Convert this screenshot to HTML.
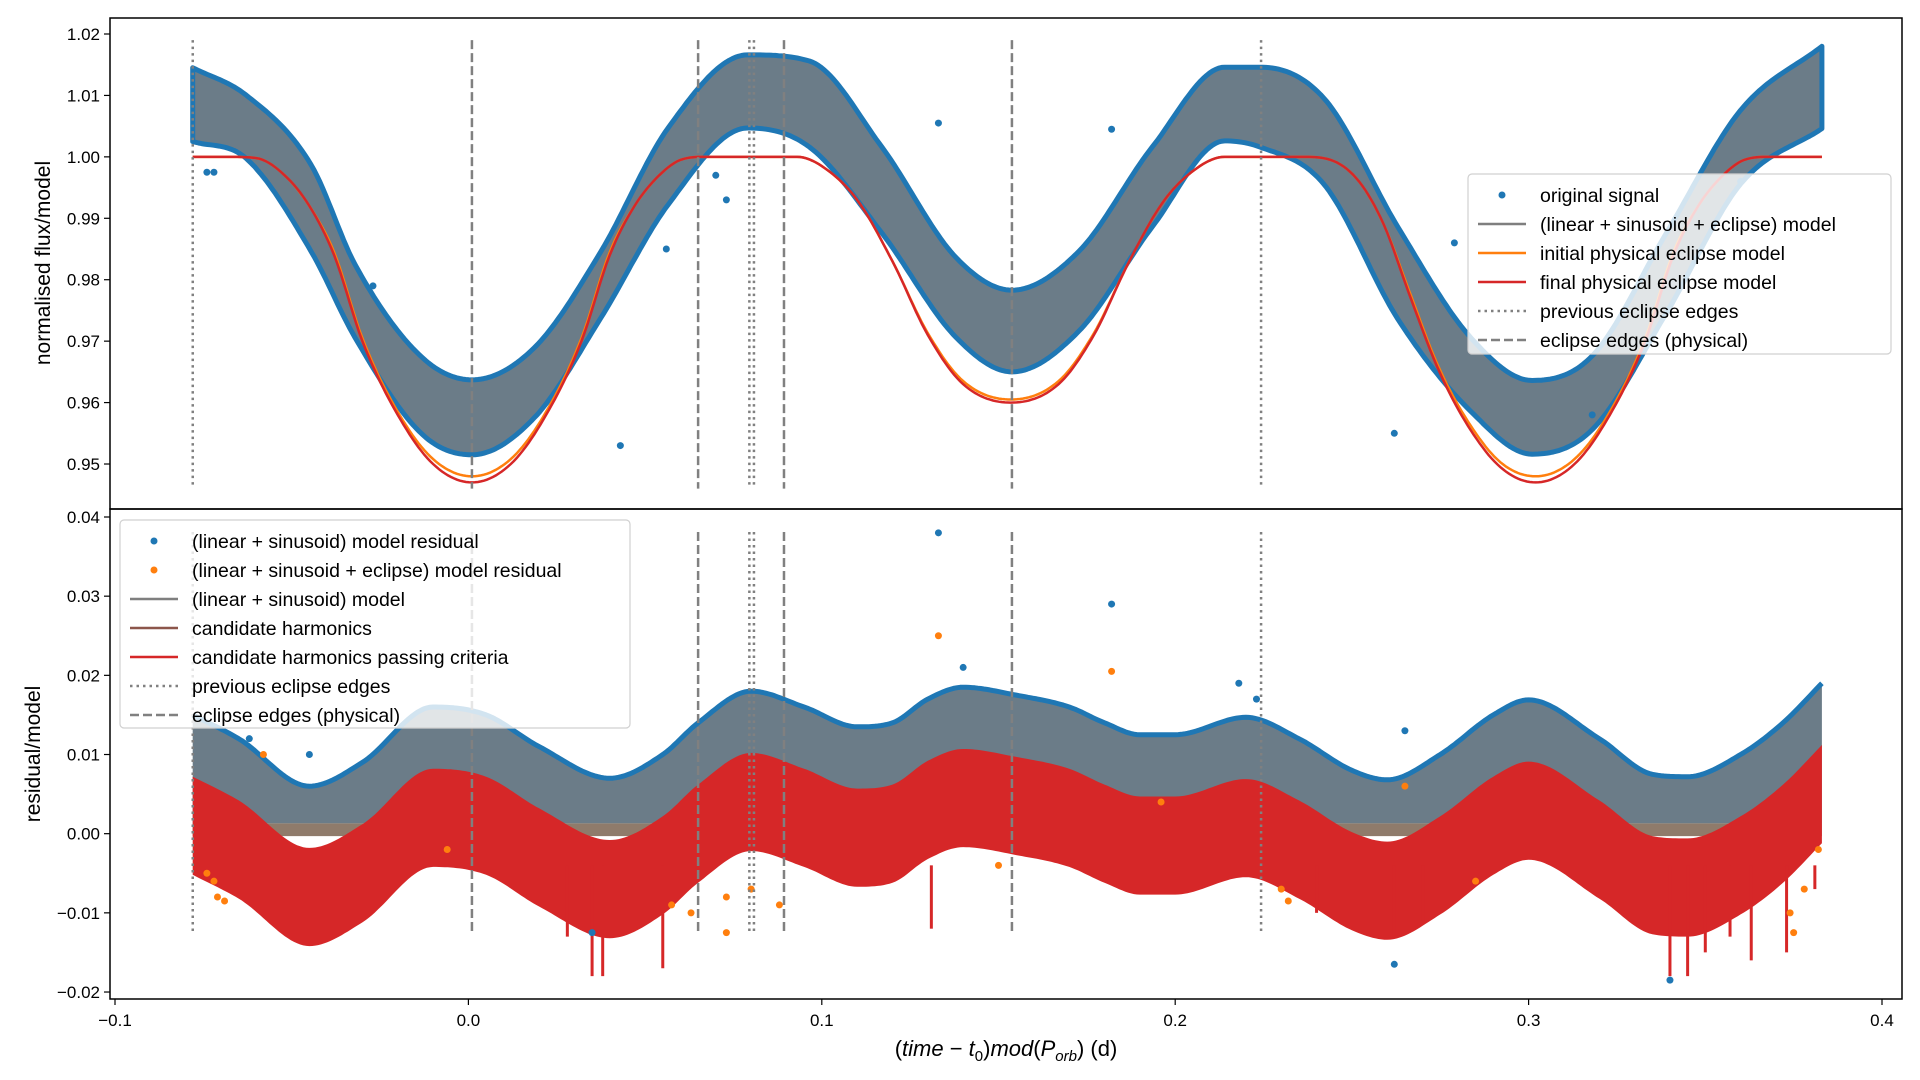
<!DOCTYPE html>
<html><head><meta charset="utf-8"><style>
body{margin:0;background:#fff;}
svg{display:block;font-family:"Liberation Sans","DejaVu Sans",sans-serif;}
</style></head><body>
<svg id="chart" width="1920" height="1080" viewBox="0 0 1920 1080" xmlns="http://www.w3.org/2000/svg">
<rect width="1920" height="1080" fill="#fff"/>
<g id="topPanel"></g><g id="botPanel"></g><g id="axesGroup"></g>
</svg>
<script>
// ---- data ----
const bandX = [-0.078,-0.063,-0.0445,-0.032,-0.013,0.001,0.0186,0.0375,0.0565,0.079,0.0965,0.117,0.138,0.1538,0.1727,0.1935,0.214,0.224,0.242,0.263,0.2836,0.301,0.318,0.339,0.360,0.383];
const bandUpper = [1.0145,1.0101,0.9987,0.9824,0.9673,0.9637,0.9689,0.9846,1.0047,1.0166,1.0156,1.0016,0.9836,0.9783,0.9846,1.0016,1.0146,1.0146,1.0096,0.9886,0.9706,0.9636,0.9676,0.9876,1.0076,1.018];
const bandLower = [1.0025,0.9998,0.9846,0.9705,0.9548,0.9515,0.9575,0.9738,0.9922,1.0047,1.0016,0.9876,0.9706,0.965,0.9716,0.9886,1.0026,1.0016,0.9956,0.9736,0.9586,0.9516,0.9556,0.9746,0.9956,1.0046];
const modelX = [-0.078,-0.068,-0.06,-0.052,-0.045,-0.038,-0.03,-0.02,-0.01,0.001,0.012,0.022,0.032,0.04,0.047,0.054,0.06,0.067,0.093,0.10,0.11,0.12,0.13,0.14,0.1535,0.167,0.177,0.187,0.197,0.207,0.214,0.236,0.244,0.252,0.259,0.266,0.274,0.282,0.292,0.302,0.313,0.323,0.333,0.341,0.348,0.355,0.361,0.368,0.383];
const redModel = [1.0,1.0,0.9998,0.997,0.992,0.984,0.970,0.958,0.950,0.947,0.950,0.958,0.970,0.984,0.992,0.997,0.9995,1.0,1.0,0.9985,0.993,0.983,0.971,0.963,0.960,0.963,0.971,0.983,0.993,0.9985,1.0,1.0,0.9995,0.996,0.989,0.978,0.966,0.957,0.9495,0.947,0.950,0.958,0.970,0.984,0.992,0.997,0.9995,1.0,1.0];
const orangeModel = [1.0,1.0,0.9998,0.997,0.992,0.9845,0.9705,0.9585,0.9508,0.948,0.9508,0.9585,0.9705,0.9845,0.992,0.997,0.9995,1.0,1.0,0.9985,0.993,0.983,0.9713,0.9635,0.9605,0.9635,0.9713,0.983,0.993,0.9985,1.0,1.0,0.9995,0.996,0.989,0.9785,0.9665,0.9577,0.9503,0.948,0.9508,0.9585,0.9705,0.9845,0.992,0.997,0.9995,1.0,1.0];
const topOutX = [0.133,0.182,0.073,0.070,-0.074,-0.072,0.056,-0.027,0.043,0.262,0.279,0.318,0.360];
const topOutY = [1.0055,1.0045,0.993,0.997,0.9975,0.9975,0.985,0.979,0.953,0.955,0.986,0.958,0.996];
const resX = [-0.078,-0.065,-0.045,-0.03,-0.01,0.005,0.02,0.04,0.055,0.065,0.08,0.095,0.11,0.12,0.13,0.14,0.155,0.17,0.18,0.19,0.2,0.22,0.235,0.25,0.26,0.275,0.29,0.30,0.32,0.335,0.345,0.36,0.372,0.383];
const resUpper = [0.015,0.012,0.006,0.009,0.016,0.015,0.011,0.007,0.010,0.014,0.018,0.016,0.0135,0.014,0.017,0.0185,0.0175,0.016,0.014,0.0125,0.0125,0.0147,0.012,0.008,0.0068,0.010,0.015,0.0169,0.012,0.0075,0.0072,0.010,0.014,0.019];
const spikeX = [0.028,0.035,0.038,0.055,0.131,0.24,0.262,0.27,0.34,0.345,0.35,0.357,0.363,0.373,0.381];
const spikeY = [-0.013,-0.018,-0.018,-0.017,-0.012,-0.010,-0.013,-0.011,-0.018,-0.018,-0.015,-0.013,-0.016,-0.015,-0.007];
const blueResX = [0.133,0.182,0.265,0.223,0.218,0.14,-0.062,-0.045,0.035,0.34,0.262];
const blueResY = [0.038,0.029,0.013,0.017,0.019,0.021,0.012,0.010,-0.0125,-0.0185,-0.0165];
const orResX = [-0.074,-0.072,-0.071,-0.069,0.133,0.182,0.073,0.073,0.088,0.080,0.150,0.285,0.230,0.382,0.375,0.374,-0.058,0.063,0.0575,-0.006,0.265,0.196,0.232,0.378];
const orResY = [-0.005,-0.006,-0.008,-0.0085,0.025,0.0205,-0.008,-0.0125,-0.009,-0.007,-0.004,-0.006,-0.007,-0.002,-0.0125,-0.010,0.010,-0.010,-0.009,-0.002,0.006,0.004,-0.0085,-0.007];
const dottedX = [-0.078,0.0795,0.0808,0.2243];
const dashedX = [0.001,0.065,0.0893,0.1538];
const xTicks = [-0.1,0.0,0.1,0.2,0.3,0.4];
const xTickLabels = ["\u22120.1","0.0","0.1","0.2","0.3","0.4"];
const topTicks = [1.02,1.01,1.00,0.99,0.98,0.97,0.96,0.95];
const topTickLabels = ["1.02","1.01","1.00","0.99","0.98","0.97","0.96","0.95"];
const botTicks = [0.04,0.03,0.02,0.01,0.00,-0.01,-0.02];
const botTickLabels = ["0.04","0.03","0.02","0.01","0.00","\u22120.01","\u22120.02"];

// ---- scales ----
const L=110,R=1902,T=18,M=509,B=999;
const X=v=>468.4+v*3534;
const YT=v=>34+(1.02-v)*6143;
const YB=v=>517+(0.04-v)*7917;
const NS="http://www.w3.org/2000/svg";
function mk(tag,attrs,parent){const e=document.createElementNS(NS,tag);for(const k in attrs)e.setAttribute(k,attrs[k]);parent.appendChild(e);return e;}
// monotone cubic (Fritsch-Carlson) sampled polyline points
function monoPts(xs,ys,fx,fy){const n=xs.length,d=[],m=[];
 for(let i=0;i<n-1;i++)d.push((ys[i+1]-ys[i])/(xs[i+1]-xs[i]));
 m[0]=d[0];m[n-1]=d[n-2];
 for(let i=1;i<n-1;i++){m[i]=(d[i-1]*d[i]<=0)?0:(d[i-1]+d[i])/2;}
 for(let i=0;i<n-1;i++){if(d[i]===0){m[i]=0;m[i+1]=0;continue;}const a=m[i]/d[i],b=m[i+1]/d[i],s=a*a+b*b;if(s>9){const t=3/Math.sqrt(s);m[i]=t*a*d[i];m[i+1]=t*b*d[i];}}
 const pts=[];
 for(let i=0;i<n-1;i++){const h=xs[i+1]-xs[i];const steps=Math.max(2,Math.ceil(fx(xs[i+1])-fx(xs[i]))/3|0);
  for(let k=0;k<steps;k++){const t=k/steps,t2=t*t,t3=t2*t;
   const y=(2*t3-3*t2+1)*ys[i]+(t3-2*t2+t)*h*m[i]+(-2*t3+3*t2)*ys[i+1]+(t3-t2)*h*m[i+1];
   pts.push([fx(xs[i]+t*h),fy(y)]);}}
 pts.push([fx(xs[n-1]),fy(ys[n-1])]);return pts;}
const ptsToD=p=>'M'+p.map(q=>q[0].toFixed(1)+','+q[1].toFixed(1)).join(' L');
function bandD(xs,up,lo,fx,fy){const a=monoPts(xs,up,fx,fy),b=monoPts(xs,lo,fx,fy).reverse();return ptsToD(a.concat(b))+' Z';}
const gTop=document.getElementById('topPanel'),gBot=document.getElementById('botPanel'),gAx=document.getElementById('axesGroup');

// ---- top panel ----
let e;
e=mk('path',{d:bandD(bandX,bandUpper,bandLower,X,YT),fill:'#6b7c88',stroke:'#1f77b4','stroke-width':5,'stroke-linejoin':'round'},gTop);


topOutX.forEach((x,i)=>{const c=mk('circle',{cx:X(x),cy:YT(topOutY[i]),r:3.5,fill:'#1f77b4'},gTop);

});
e=mk('path',{d:ptsToD(monoPts(modelX,orangeModel,X,YT)),fill:'none',stroke:'#ff7f0e','stroke-width':2.5},gTop);


e=mk('path',{d:ptsToD(monoPts(modelX,redModel,X,YT)),fill:'none',stroke:'#d62728','stroke-width':2.5},gTop);


dottedX.forEach(x=>{const l=mk('line',{x1:X(x),x2:X(x),y1:YT(1.019),y2:YT(0.946),stroke:'#808080','stroke-width':2.5,'stroke-dasharray':'2.5,4'},gTop);

});
dashedX.forEach(x=>{const l=mk('line',{x1:X(x),x2:X(x),y1:YT(1.019),y2:YT(0.946),stroke:'#808080','stroke-width':2.5,'stroke-dasharray':'9,4'},gTop);

});

// ---- bottom panel ----
const zeroLo=resX.map(()=>-0.0003), grayLo=resX.map(()=>0.0013);
e=mk('path',{d:bandD(resX,resUpper,grayLo,X,YB),fill:'#6b7c88'},gBot);


e=mk('path',{d:ptsToD(monoPts(resX,resUpper,X,YB)),fill:'none',stroke:'#1f77b4','stroke-width':5,'stroke-linejoin':'round'},gBot);


e=mk('path',{d:bandD(resX,grayLo,zeroLo,X,YB),fill:'#8f7b6b'},gBot);


const redTop=resUpper.map(v=>v-0.0078), redBot=resUpper.map(v=>v-0.0202);
e=mk('path',{d:bandD(resX,redTop,redBot,X,YB),fill:'#d62728'},gBot);


spikeX.forEach((x,i)=>{const l=mk('line',{x1:X(x),x2:X(x),y1:YB(-0.004),y2:YB(spikeY[i]),stroke:'#d62728','stroke-width':3},gBot);

});
orResX.forEach((x,i)=>{const c=mk('circle',{cx:X(x),cy:YB(orResY[i]),r:3.5,fill:'#ff7f0e'},gBot);

});
blueResX.forEach((x,i)=>{const c=mk('circle',{cx:X(x),cy:YB(blueResY[i]),r:3.5,fill:'#1f77b4'},gBot);

});
dottedX.forEach(x=>{const l=mk('line',{x1:X(x),x2:X(x),y1:YB(0.0381),y2:YB(-0.0127),stroke:'#808080','stroke-width':2.5,'stroke-dasharray':'2.5,4'},gBot);

});
dashedX.forEach(x=>{const l=mk('line',{x1:X(x),x2:X(x),y1:YB(0.0381),y2:YB(-0.0127),stroke:'#808080','stroke-width':2.5,'stroke-dasharray':'9,4'},gBot);

});

// ---- axes ----
e=mk('rect',{x:L,y:T,width:R-L,height:M-T,fill:'none',stroke:'#000','stroke-width':1.5},gAx);


e=mk('rect',{x:L,y:M,width:R-L,height:B-M,fill:'none',stroke:'#000','stroke-width':1.5},gAx);


function txt(s,attrs,name){const t=mk('text',attrs,gAx);t.textContent=s;


return t;}
topTicks.forEach((v,i)=>{mk('line',{x1:L-6,x2:L,y1:YT(v),y2:YT(v),stroke:'#000','stroke-width':1.2},gAx);
txt(topTickLabels[i],{x:L-10,y:YT(v)+6,'font-size':17,'text-anchor':'end',fill:'#000'},'top-y-tick-label');});
botTicks.forEach((v,i)=>{mk('line',{x1:L-6,x2:L,y1:YB(v),y2:YB(v),stroke:'#000','stroke-width':1.2},gAx);
txt(botTickLabels[i],{x:L-10,y:YB(v)+6,'font-size':17,'text-anchor':'end',fill:'#000'},'bottom-y-tick-label');});
xTicks.forEach((v,i)=>{mk('line',{x1:X(v),x2:X(v),y1:B,y2:B+6,stroke:'#000','stroke-width':1.2},gAx);
txt(xTickLabels[i],{x:X(v),y:B+27,'font-size':17,'text-anchor':'middle',fill:'#000'},'x-tick-label');});
txt('normalised flux/model',{x:0,y:0,transform:'translate(50,263) rotate(-90)','font-size':21,'text-anchor':'middle'},'top-y-axis-title');
txt('residual/model',{x:0,y:0,transform:'translate(40,754) rotate(-90)','font-size':21,'text-anchor':'middle'},'bottom-y-axis-title');
const xl=mk('text',{x:1006,y:1056,'font-size':22,'text-anchor':'middle'},gAx);


xl.innerHTML='(<tspan font-style="italic">time</tspan> \u2212 <tspan font-style="italic">t</tspan><tspan font-size="15" dy="5">0</tspan><tspan dy="-5">)</tspan><tspan font-style="italic">mod</tspan>(<tspan font-style="italic">P</tspan><tspan font-size="15" font-style="italic" dy="5">orb</tspan><tspan dy="-5">) (d)</tspan>';

// ---- legends ----
function legend(x,y,w,h,rows,name){const g=mk('g',{},gAx);
 
 
 mk('rect',{x:x,y:y,width:w,height:h,rx:4,fill:'rgba(255,255,255,0.8)',stroke:'#d0d0d0','stroke-width':1.2},g);
 rows.forEach((r,i)=>{const cy=y+21+i*29;
  if(r.t==='dot') mk('circle',{cx:x+34,cy:cy,r:3.5,fill:r.c},g);
  else mk('line',{x1:x+10,x2:x+58,y1:cy,y2:cy,stroke:r.c,'stroke-width':2.5,'stroke-dasharray':r.t==='dot2'?'2.5,4':(r.t==='dash'?'9,4':'none')},g);
  const t=mk('text',{x:x+72,y:cy+7,'font-size':19.5,fill:'#000'},g);t.textContent=r.s;
  
  });}
legend(1468,174,423,180,[{t:'dot',c:'#1f77b4',s:'original signal'},{t:'line',c:'#7f7f7f',s:'(linear + sinusoid + eclipse) model'},{t:'line',c:'#ff7f0e',s:'initial physical eclipse model'},{t:'line',c:'#d62728',s:'final physical eclipse model'},{t:'dot2',c:'#808080',s:'previous eclipse edges'},{t:'dash',c:'#808080',s:'eclipse edges (physical)'}],'top-legend');
legend(120,520,510,208,[{t:'dot',c:'#1f77b4',s:'(linear + sinusoid) model residual'},{t:'dot',c:'#ff7f0e',s:'(linear + sinusoid + eclipse) model residual'},{t:'line',c:'#7f7f7f',s:'(linear + sinusoid) model'},{t:'line',c:'#8c564b',s:'candidate harmonics'},{t:'line',c:'#d62728',s:'candidate harmonics passing criteria'},{t:'dot2',c:'#808080',s:'previous eclipse edges'},{t:'dash',c:'#808080',s:'eclipse edges (physical)'}],'bottom-legend');
</script>
</body></html>
